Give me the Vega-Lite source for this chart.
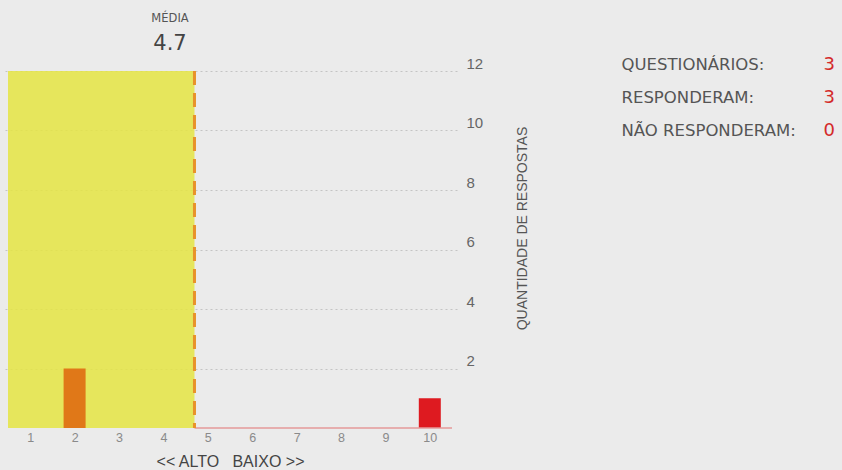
{
  "$schema": "https://vega.github.io/schema/vega-lite/v6.json",
  "background": "#ebebeb",
  "padding": {"left": 3, "top": 12, "right": 8, "bottom": 2},
  "config": {"view": {"stroke": null}, "font": "Liberation Sans"},
  "resolve": {"scale": {"color": "independent", "size": "independent"}},
  "datasets": {
    "respostas": [
      {"nota": 1, "quantidade": 0},
      {"nota": 2, "quantidade": 2},
      {"nota": 3, "quantidade": 0},
      {"nota": 4, "quantidade": 0},
      {"nota": 5, "quantidade": 0},
      {"nota": 6, "quantidade": 0},
      {"nota": 7, "quantidade": 0},
      {"nota": 8, "quantidade": 0},
      {"nota": 9, "quantidade": 0},
      {"nota": 10, "quantidade": 1}
    ],
    "media": [{"media": 4.7}],
    "resumo": [
      {"rotulo": "QUESTIONÁRIOS:", "valor": "3"},
      {"rotulo": "RESPONDERAM:", "valor": "3"},
      {"rotulo": "NÃO RESPONDERAM:", "valor": "0"}
    ]
  },
  "hconcat": [
    {
      "width": 454,
      "height": 357,
      "title": {
        "text": "MÉDIA",
        "subtitle": "4.7",
        "anchor": "middle",
        "dx": -60,
        "font": "DejaVu Sans",
        "subtitleFont": "DejaVu Sans",
        "fontSize": 11.5,
        "fontWeight": "normal",
        "color": "#555555",
        "subtitleFontSize": 21,
        "subtitleColor": "#444444",
        "subtitlePadding": 9,
        "offset": 2
      },
      "layer": [
        {
          "data": {"name": "media"},
          "mark": {"type": "rect", "color": "#e5e543", "opacity": 0.85},
          "encoding": {
            "x": {"field": "media", "type": "quantitative", "title": "<< ALTO\u00a0\u00a0\u00a0BAIXO >>"},
            "x2": {"datum": 0.5}
          }
        },
        {
          "data": {"name": "respostas"},
          "mark": {"type": "bar", "size": 22},
          "encoding": {
            "x": {
              "field": "nota",
              "type": "quantitative",
              "title": "<< ALTO\u00a0\u00a0\u00a0BAIXO >>",
              "scale": {"domain": [0.5, 10.5], "nice": false, "zero": false},
              "axis": {
                "values": [1, 2, 3, 4, 5, 6, 7, 8, 9, 10],
                "format": "d",
                "grid": false,
                "domain": false,
                "ticks": false,
                "labelFontSize": 12.5,
                "labelColor": "#8a8a8a",
                "labelPadding": 3,
                "titleFontSize": 16,
                "titleFontWeight": "normal",
                "titleColor": "#444444",
                "titlePadding": 10
              }
            },
            "y": {
              "field": "quantidade",
              "type": "quantitative",
              "title": "QUANTIDADE DE RESPOSTAS",
              "scale": {"domain": [0, 12], "nice": false},
              "axis": {
                "orient": "right",
                "values": [2, 4, 6, 8, 10, 12],
                "grid": true,
                "gridColor": "#c4c4c4",
                "gridDash": [2, 3],
                "domain": false,
                "ticks": false,
                "labelFontSize": 15,
                "labelColor": "#666666",
                "labelPadding": 9,
                "labelBaseline": "alphabetic",
                "labelOffset": -3,
                "titleFontSize": 14,
                "titleFontWeight": "normal",
                "titleColor": "#555555",
                "titleAngle": 270,
                "titleX": 65.5,
                "titleY": 157,
                "titleAlign": "center",
                "titleBaseline": "middle"
              }
            },
            "color": {
              "field": "nota",
              "type": "ordinal",
              "legend": null,
              "scale": {
                "domain": [1, 2, 3, 4, 5, 6, 7, 8, 9, 10],
                "range": ["#e8c23a", "#e07818", "#e06a1a", "#e05e1c", "#e0521e", "#de4620", "#dc3a22", "#da3024", "#d82826", "#de1a20"]
              }
            }
          }
        },
        {
          "data": {"name": "media"},
          "mark": {"type": "rule", "color": "#e49a9a", "strokeWidth": 1.5},
          "encoding": {
            "x": {"field": "media", "type": "quantitative", "title": "<< ALTO\u00a0\u00a0\u00a0BAIXO >>"},
            "x2": {"datum": 10.5},
            "y": {"datum": 0, "type": "quantitative", "title": "QUANTIDADE DE RESPOSTAS"}
          }
        },
        {
          "data": {"name": "media"},
          "mark": {"type": "rule", "color": "#e8922a", "strokeWidth": 3, "strokeDash": [14, 8]},
          "encoding": {
            "x": {"field": "media", "type": "quantitative", "title": "<< ALTO\u00a0\u00a0\u00a0BAIXO >>"}
          }
        }
      ]
    },
    {
      "width": 202,
      "height": 66,
      "data": {"name": "resumo"},
      "transform": [{"fold": ["rotulo", "valor"], "as": ["coluna", "texto"]}],
      "mark": {"type": "text", "align": "left", "baseline": "middle", "font": "DejaVu Sans", "dy": -6},
      "encoding": {
        "x": {"field": "coluna", "type": "nominal", "scale": {"type": "point", "domain": ["rotulo", "valor"], "padding": 0}, "axis": null},
        "y": {"field": "rotulo", "type": "nominal", "sort": null, "scale": {"type": "point", "padding": 0}, "axis": null},
        "text": {"field": "texto", "type": "nominal"},
        "color": {"field": "coluna", "type": "nominal", "scale": {"domain": ["rotulo", "valor"], "range": ["#555555", "#d42a2a"]}, "legend": null},
        "size": {"field": "coluna", "type": "nominal", "scale": {"domain": ["rotulo", "valor"], "range": [16.5, 18]}, "legend": null}
      }
    }
  ],
  "spacing": 91.5
}
